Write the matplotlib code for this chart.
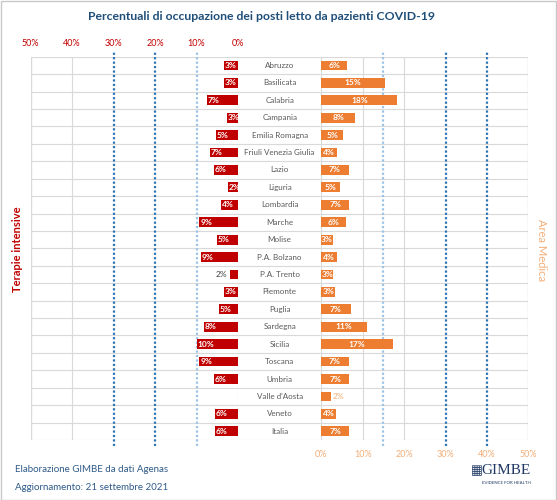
import matplotlib
matplotlib.use('Agg')
import matplotlib.pyplot as plt
import numpy as np

plt.rcParams['font.family'] = ['Lato', 'DejaVu Sans']

regioni = ['Abruzzo', 'Basilicata', 'Calabria', 'Campania', 'Emilia Romagna',
           'Friuli Venezia Giulia', 'Lazio', 'Liguria', 'Lombardia', 'Marche',
           'Molise', 'P.A. Bolzano', 'P.A. Trento', 'Piemonte', 'Puglia',
           'Sardegna', 'Sicilia', 'Toscana', 'Umbria', "Valle d'Aosta",
           'Veneto', 'Italia']
# percentuali terapie intensive
ti = [3.4, 3.4, 7.4, 2.7, 5.3, 6.7, 5.8, 2.45, 4.1, 9.3, 5.0, 9.0, 2.0, 3.3,
      4.7, 8.2, 10.0, 9.3, 5.9, 0.0, 5.6, 5.6]
# percentuali area medica
am = [6.2, 15.3, 18.4, 8.2, 5.2, 3.9, 6.6, 4.6, 6.8, 6.0, 2.8, 3.7, 2.9, 3.4,
      7.1, 11.0, 17.3, 6.6, 6.8, 2.3, 3.6, 6.8]
ticks = [0, 10, 20, 30, 40, 50]
soglie_ti = [10, 20, 30]
soglie_am = [15, 30, 40]

RED = '#c00000'
ORANGE = '#ed7d31'
LORANGE = '#f2ae78'
GRID = '#d9d9d9'
BLUE_D = '#2e75b6'
BLUE_L = '#9dc3e6'

n = len(regioni)
y = np.arange(n)

fig = plt.figure(figsize=(5.57, 5.0), dpi=100)
W, H = 557, 500
top, bot = 56.7, 440.0
x_l0, x_l1 = 30.7, 238.0
x_r0, x_r1 = 321.3, 528.3

def box(x0, x1):
    return [x0 / W, 1 - bot / H, (x1 - x0) / W, (bot - top) / H]

axL = fig.add_axes(box(x_l0, x_l1))
axM = fig.add_axes(box(x_l1, x_r0))
axR = fig.add_axes(box(x_r0, x_r1))

for ax in (axL, axM, axR):
    ax.set_ylim(n - 0.5, -0.5)
    ax.set_yticks([])
    for b in np.arange(-0.5, n, 1.0):
        ax.axhline(b, color=GRID, lw=0.8, zorder=0)
    for s in ax.spines.values():
        s.set_visible(False)
    ax.tick_params(length=0)

# pannello sinistro
axL.set_xlim(50, 0)
axL.barh(y, ti, height=0.56, color=RED, zorder=2)
axL.xaxis.tick_top()
axL.set_xticks(ticks)
axL.set_xticklabels([f'{t}%' for t in ticks], color=RED, fontsize=6.5)
axL.tick_params(axis='x', pad=6)
for t in [0, 40]:
    axL.axvline(t, color=GRID, lw=0.8, zorder=0)
axL.axvline(50, color=GRID, lw=1.0, zorder=0)
for s in soglie_ti:
    c = BLUE_L if s == 10 else BLUE_D
    axL.axvline(s, ymin=-0.015, ymax=1.015, color=c, lw=1.6, ls=(0, (1, 1)),
                clip_on=False, zorder=1)
for i, v in enumerate(ti):
    if v <= 0:
        continue
    if v < 2.2:
        axL.annotate(f'{v:.0f}%', (v, i), xytext=(-2, 0), textcoords='offset points',
                     ha='right', va='center', fontsize=6, color='#404040', zorder=3)
    else:
        axL.annotate(f'{v:.0f}%', (v, i), xytext=(0.5, 0), textcoords='offset points',
                     ha='left', va='center', fontsize=6, color='white',
                     fontweight='bold', zorder=3, annotation_clip=False, clip_on=True)

# pannello centrale
axM.set_xlim(0, 1)
axM.set_xticks([])
for i, r in enumerate(regioni):
    axM.text(0.5, i, r, ha='center', va='center', fontsize=5.8, color='#595959')

# pannello destro
axR.set_xlim(0, 50)
axR.barh(y, am, height=0.56, color=ORANGE, zorder=2)
axR.set_xticks(ticks)
axR.set_xticklabels([f'{t}%' for t in ticks], color=LORANGE, fontsize=6.5)
axR.tick_params(axis='x', pad=7)
for t in [0, 10, 20]:
    axR.axvline(t, color=GRID, lw=0.8, zorder=0)
axR.axvline(50, color=GRID, lw=1.0, zorder=0)
for s in soglie_am:
    c = BLUE_L if s == 15 else BLUE_D
    axR.axvline(s, ymin=-0.015, ymax=1.015, color=c, lw=1.6, ls=(0, (1, 1)),
                clip_on=False, zorder=1)
for i, v in enumerate(am):
    if v < 2.5:
        axR.annotate(f'{v:.0f}%', (v, i), xytext=(1, 0), textcoords='offset points',
                     ha='left', va='center', fontsize=6, color=LORANGE, zorder=3)
    else:
        axR.text(v / 2, i, f'{v:.0f}%', ha='center', va='center', fontsize=6,
                 color='white', fontweight='bold', zorder=3)

# titoli e testi
fig.text(261 / W, 1 - 17 / H, 'Percentuali di occupazione dei posti letto da pazienti COVID-19',
         ha='center', va='center', fontsize=8.8, fontweight='bold', color='#1f4e79')
fig.text(18 / W, 1 - 249 / H, 'Terapie intensive', rotation=90, ha='center', va='center',
         fontsize=8, fontweight='bold', color=RED)
fig.text(541 / W, 1 - 250 / H, 'Area Medica', rotation=-90, ha='center', va='center',
         fontsize=8, color=LORANGE)
fig.text(15 / W, 1 - 470 / H, 'Elaborazione GIMBE da dati Agenas', ha='left', va='center',
         fontsize=7, color='#2e5a88')
fig.text(15 / W, 1 - 487 / H, 'Aggiornamento: 21 settembre 2021', ha='left', va='center',
         fontsize=7, color='#2e5a88')
fig.text(483 / W, 1 - 471 / H, '▦', ha='right', va='center', fontsize=9,
         color='#1f3864', family='DejaVu Sans')
fig.text(531 / W, 1 - 471 / H, 'GIMBE', ha='right', va='center', fontsize=11,
         color='#1f3864', family='Liberation Serif')
fig.text(531 / W, 1 - 483 / H, 'EVIDENCE FOR HEALTH', ha='right', va='center',
         fontsize=3.2, color='#1f3864')

fig.patches.append(plt.Rectangle((0.001, 0.001), 0.998, 0.998, transform=fig.transFigure,
                                 fill=False, edgecolor='#c8c8c8', lw=1))

fig.savefig('out.png', dpi=100)
